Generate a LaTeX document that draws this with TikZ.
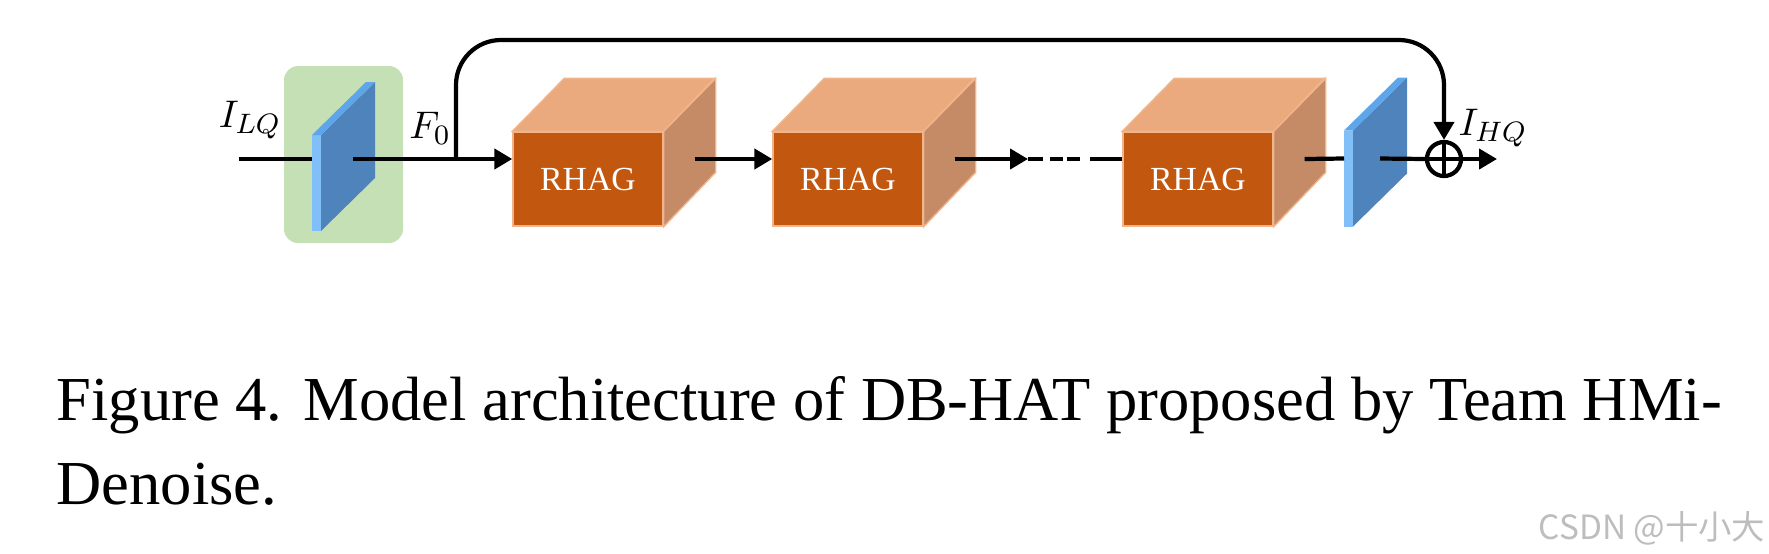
\documentclass[tikz,border=0pt]{standalone}
\usepackage{fontspec}
\setmainfont{Liberation Serif}
\newfontfamily\cjkfont{Noto Sans CJK SC}
\usepackage{tikz}
\usetikzlibrary{arrows.meta,positioning,calc}
\definecolor{boxgreen}{HTML}{C5E0B4}
\definecolor{platefront}{HTML}{80BFF7}
\definecolor{plateface}{HTML}{4E84BB}
\definecolor{platetop}{HTML}{5EA6EB}
\definecolor{rhagfront}{HTML}{C25710}
\definecolor{rhagtop}{HTML}{EBAA7E}
\definecolor{rhagside}{HTML}{C48B66}
\definecolor{rhagedge}{HTML}{F2B48A}
\definecolor{markgray}{HTML}{BDBDBD}

\begin{document}
\begin{tikzpicture}[
  flow/.style={line width=1.2pt},
  arrow/.style={flow, -{Triangle[length=0.18cm,width=0.2cm]}},
  rhag/.style={fill=rhagfront, draw=rhagedge, line width=0.4pt, minimum width=1.5cm, minimum height=0.94cm, inner sep=0pt, text=white, font=\fontsize{9.6}{11}\selectfont},
  plate/.style={fill=platefront, minimum width=0.09cm, minimum height=0.96cm, inner sep=0pt, outer sep=0pt},
  mathlabel/.style={font=\fontsize{11}{13}\selectfont}
]
  \useasboundingbox (0,0) rectangle (17.69,5.53);

  % first conv layer
  \node[fill=boxgreen, rounded corners=0.14cm, minimum width=1.19cm, minimum height=1.77cm] (conv) at (3.435,3.985) {};
  \node[plate] (p1) at (3.165,3.70) {};
  \fill[plateface] (p1.south east) -- ++(0.54,0.53) -- ++(0,0.96) -- (p1.north east) -- cycle;
  \fill[platetop] (p1.north west) -- ++(0.54,0.53) -- ++(0.09,0) -- (p1.north east) -- cycle;

  % RHAG blocks
  \node[rhag] (r1) at (5.88,3.74) {RHAG};
  \filldraw[fill=rhagtop, draw=rhagedge, line width=0.4pt] (r1.north west) -- ++(0.52,0.53) -- ++(1.5,0) -- (r1.north east) -- cycle;
  \filldraw[fill=rhagside, draw=rhagedge, line width=0.4pt] (r1.north east) -- ++(0.52,0.53) -- ++(0,-0.94) -- (r1.south east) -- cycle;

  \node[rhag] (r2) at (8.48,3.74) {RHAG};
  \filldraw[fill=rhagtop, draw=rhagedge, line width=0.4pt] (r2.north west) -- ++(0.52,0.53) -- ++(1.5,0) -- (r2.north east) -- cycle;
  \filldraw[fill=rhagside, draw=rhagedge, line width=0.4pt] (r2.north east) -- ++(0.52,0.53) -- ++(0,-0.94) -- (r2.south east) -- cycle;

  \node[rhag] (r3) at (11.98,3.74) {RHAG};
  \filldraw[fill=rhagtop, draw=rhagedge, line width=0.4pt] (r3.north west) -- ++(0.52,0.53) -- ++(1.5,0) -- (r3.north east) -- cycle;
  \filldraw[fill=rhagside, draw=rhagedge, line width=0.4pt] (r3.north east) -- ++(0.52,0.53) -- ++(0,-0.94) -- (r3.south east) -- cycle;

  % last conv layer
  \node[plate] (p2) at (13.485,3.745) {};
  \fill[plateface] (p2.south east) -- ++(0.54,0.53) -- ++(0,0.96) -- (p2.north east) -- cycle;
  \fill[platetop] (p2.north west) -- ++(0.54,0.53) -- ++(0.09,0) -- (p2.north east) -- cycle;

  % sum
  \node[draw, circle, flow, minimum size=0.34cm, inner sep=0pt] (add) at (14.44,3.94) {};
  \draw[flow] (add.north) -- (add.south) (add.west) -- (add.east);

  % connectors
  \coordinate (in) at (2.39,3.94);
  \coordinate (br) at (4.56,3.94);
  \coordinate (top) at (9.5,5.13);
  \coordinate (d1) at (10.28,3.94);
  \coordinate (out) at (14.97,3.94);
  \draw[flow] (in) -- ([yshift=0.24cm]p1.west);
  \draw[arrow] ([shift={(0.32,0.24)}]p1.east) -- ([yshift=0.2cm]r1.west);
  \draw[arrow] ([shift={(0.31,0.2)}]r1.east) -- ([yshift=0.2cm]r2.west);
  \draw[arrow] ([shift={(0.31,0.2)}]r2.east) -- (d1);
  \draw[flow, dash pattern=on 0.15cm off 0.07cm on 0.13cm off 0.04cm on 0.13cm off 0.10cm on 0.33cm off 0cm] (d1) -- ([yshift=0.2cm]r3.west);
  \draw[flow] ([shift={(0.31,0.2)}]r3.east) -- ([yshift=0.2cm]p2.west);
  \draw[flow] ([shift={(0.27,0.2)}]p2.east) -- (add.west);
  \draw[arrow] (add.east) -- (out);
  \draw[arrow, rounded corners=0.45cm] (br) |- (top) -| (add.north);

  % labels
  \node[mathlabel] (ilq) at (2.50,4.33) {$I_{LQ}$};
  \node[mathlabel] (f0) at (4.30,4.25) {$F_0$};
  \node[mathlabel] (ihq) at (14.93,4.25) {$I_{HQ}$};

  % caption
  \node[anchor=base west, inner sep=0pt, font=\fontsize{17.8}{21}\selectfont] (cap1) at (0.56,1.33) {Figure 4. Model architecture of DB-HAT proposed by Team HMi-};
  \node[anchor=base west, inner sep=0pt, font=\fontsize{17.8}{21}\selectfont] (cap2) at (0.56,0.49) {Denoise.};
  \node[anchor=base west, inner sep=0pt, text=markgray, font=\cjkfont\fontsize{9.5}{11}\selectfont] (mark) at (15.38,0.14) {CSDN @十小大};
\end{tikzpicture}
\end{document}
